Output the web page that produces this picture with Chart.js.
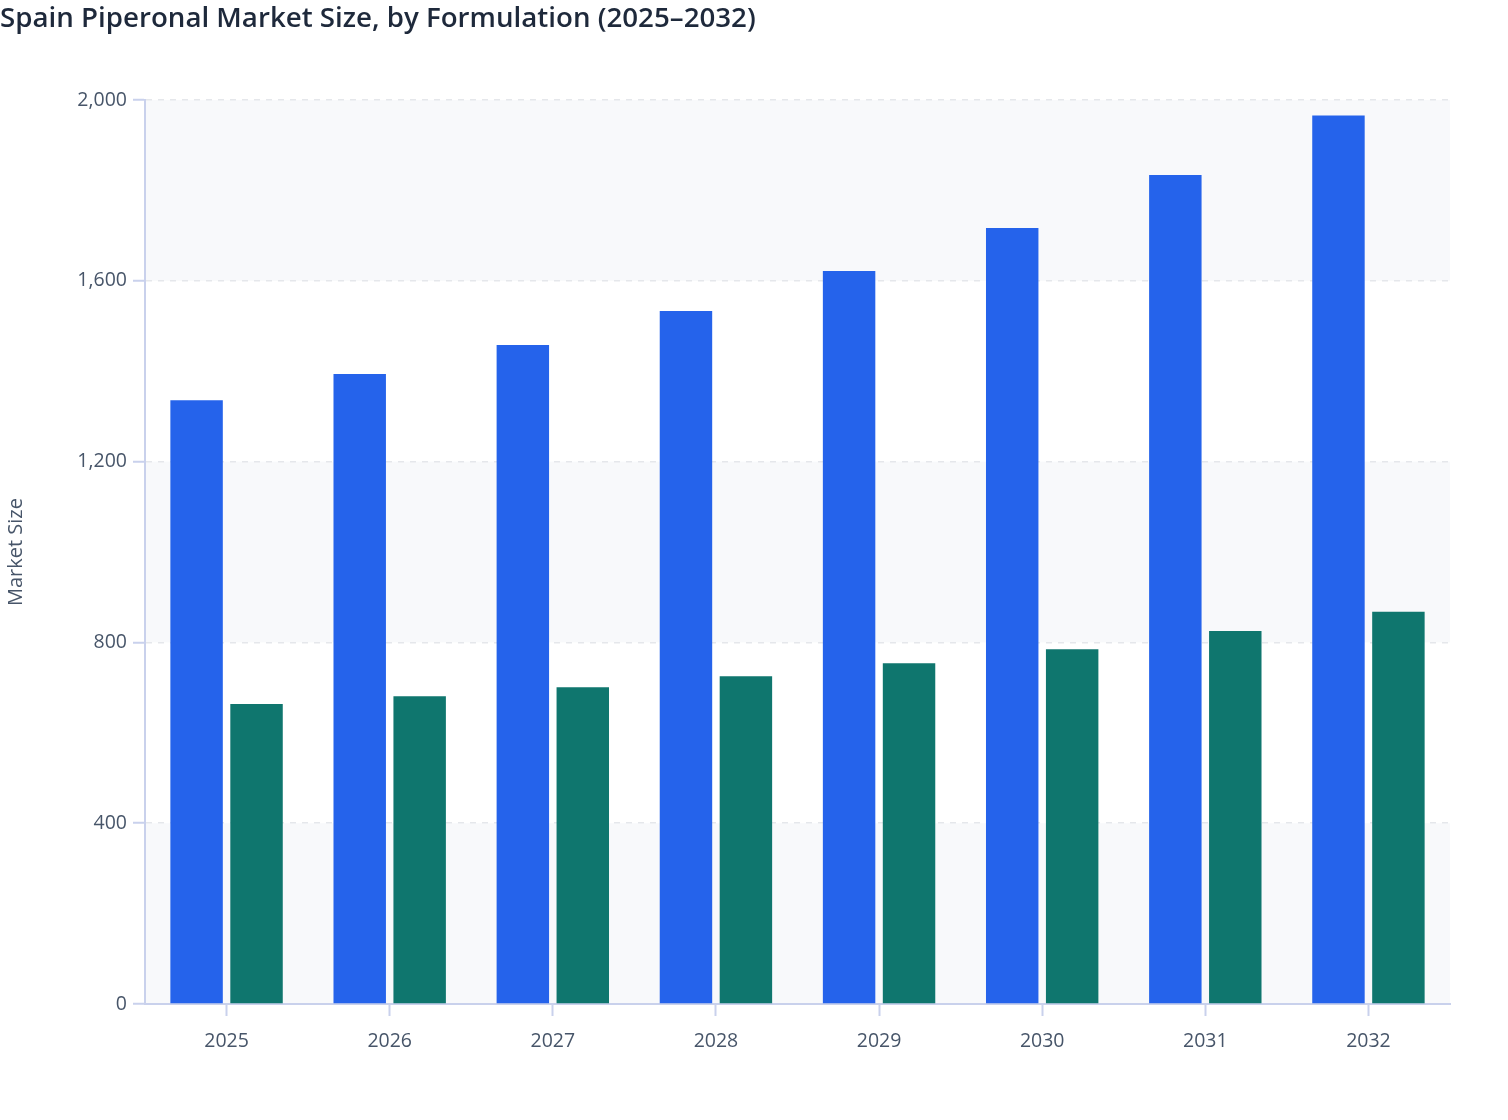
<!DOCTYPE html>
<html>
<head>
<meta charset="utf-8">
<script src="https://cdn.jsdelivr.net/npm/chart.js@4/dist/chart.umd.min.js"></script>
<style>
  html, body { margin: 0; padding: 0; background: #ffffff; }
  #wrap { width: 1508px; height: 1120px; position: relative; }
</style>
</head>
<body>
<div id="wrap"><canvas id="c" width="1508" height="1120"></canvas></div>
<script>
const titleText = "Spain Piperonal Market Size, by Formulation (2025–2032)";
const years = ["2025", "2026", "2027", "2028", "2029", "2030", "2031", "2032"];
const seriesA = [1336, 1394, 1458, 1533, 1622, 1717, 1834, 1966];
const seriesB = [664, 681, 701, 725, 754, 785, 825, 868];
const seriesNames = ["Formulation A", "Formulation B"];
const yTicks = [0, 400, 800, 1200, 1600, 2000];

const bgPlugin = {
  id: 'bandsUnderGrid',
  beforeDraw(chart) {
    const { ctx, chartArea, scales } = chart;
    const y = scales.y;
    ctx.save();
    for (let i = 0; i < yTicks.length - 1; i++) {
      if (i % 2 !== 0) continue;
      const top = y.getPixelForValue(yTicks[i + 1]);
      const bottom = y.getPixelForValue(yTicks[i]);
      ctx.fillStyle = '#f8f9fb';
      ctx.fillRect(chartArea.left, top, chartArea.right - chartArea.left, bottom - top);
    }
    ctx.restore();
  }
};

const axisColor = '#c9d1ec';
const fontFamily = "'Open Sans', 'Noto Sans', sans-serif";
const tickFont = { family: fontFamily, size: 19.5 };

new Chart(document.getElementById('c'), {
  type: 'bar',
  data: {
    labels: years,
    datasets: [
      { label: seriesNames[0], data: seriesA, backgroundColor: '#2563eb', borderWidth: 0,
        barPercentage: 0.875, categoryPercentage: 0.735 },
      { label: seriesNames[1], data: seriesB, backgroundColor: '#0f766e', borderWidth: 0,
        barPercentage: 0.875, categoryPercentage: 0.735 }
    ]
  },
  options: {
    responsive: false,
    animation: false,
    devicePixelRatio: 1,
    layout: { padding: { left: 0, right: 58, top: 0, bottom: 0 } },
    plugins: {
      legend: { display: false },
      tooltip: { enabled: false },
      title: {
        display: true,
        text: titleText,
        align: 'start',
        color: '#1e293b',
        font: { family: fontFamily, size: 27.7, weight: '600' },
        padding: { top: 2, bottom: 64.8 }
      }
    },
    scales: {
      x: {
        grid: { display: true, drawOnChartArea: false, drawTicks: true, offset: false,
                tickLength: 12, tickColor: axisColor, tickWidth: 2 },
        border: { display: true, color: axisColor, width: 2 },
        ticks: { color: '#475569', font: tickFont, padding: 14 },
        afterFit(scale) { scale.height = 116; }
      },
      y: {
        min: 0, max: 2000,
        afterBuildTicks(scale) { scale.ticks = yTicks.map(v => ({ value: v })); },
        grid: { color: '#e5e7eb', lineWidth: 1.5, tickColor: axisColor, tickLength: 12, tickWidth: 2 },
        border: { display: true, color: axisColor, width: 2, dash: [6, 6] },
        ticks: { color: '#475569', font: tickFont, padding: 6,
                 callback: (v) => v.toLocaleString('en-US') },
        title: { display: true, text: 'Market Size', color: '#475569',
                 font: { family: fontFamily, size: 20 },
                 padding: { top: 4, bottom: 0 } },
        afterFit(scale) { scale.width = 145; }
      }
    }
  },
  plugins: [bgPlugin]
});
</script>
</body>
</html>
